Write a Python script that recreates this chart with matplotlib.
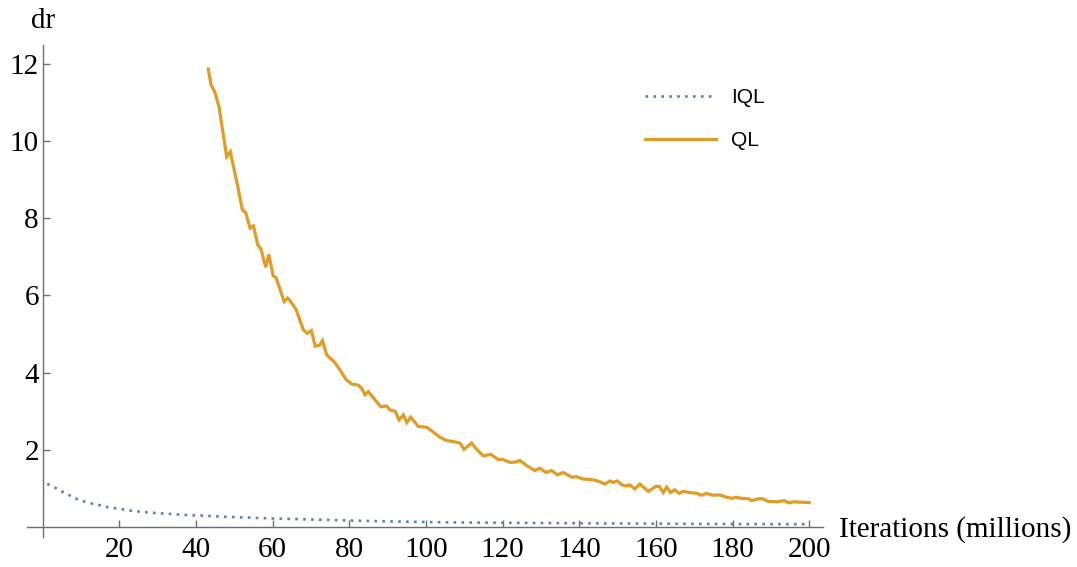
import matplotlib
matplotlib.use("Agg")
import matplotlib.pyplot as plt

# ---- data ----
iql_x = [1.2, 3.0, 4.7, 6.4, 8.2, 9.9, 11.6, 13.6, 15.5, 17.4, 19.3, 21.2, 23.1, 25.0,
         27.0, 29.0, 31.0, 35.0, 38.4, 42.3, 48.2, 55.8, 59.7, 67.2, 75.0, 82.8, 92.4,
         98.0, 110.0, 125.0, 140.0, 160.0, 180.0, 200.0]
iql_y = [1.125, 1.04, 0.94, 0.86, 0.76, 0.70, 0.64, 0.60, 0.56, 0.51, 0.49, 0.46, 0.43, 0.41,
         0.39, 0.375, 0.36, 0.335, 0.315, 0.30, 0.27, 0.245, 0.23, 0.21, 0.19, 0.17, 0.15,
         0.14, 0.125, 0.115, 0.105, 0.095, 0.085, 0.08]

ql_x = [43.2, 43.9, 44.95, 46.0, 48.0, 48.95, 50.35, 51.0, 52.1, 52.96, 54.1, 55.0, 56.1,
        56.95, 58.2, 59.0, 60.1, 60.9, 63.0, 63.9, 64.5, 66.1, 68.0, 69.0, 70.1, 71.1, 72.2,
        73.0, 74.1, 76.0, 77.6, 79.1, 80.6, 82.3, 83.2, 84.1, 84.95, 86.7, 88.2, 89.7, 90.6,
        92.0, 93.0, 94.1, 95.0, 96.0, 98.0, 100.2, 103.7, 105.2, 107.1, 108.9, 109.9, 111.9,
        113.4, 114.95, 116.9, 118.9, 120.0, 121.9, 123.5, 124.5, 126.4, 128.4, 129.7, 131.3,
        132.8, 134.3, 135.8, 138.0, 139.3, 141.0, 143.6, 145.4, 146.7, 148.0, 148.9, 149.9,
        151.1, 152.4, 153.2, 154.5, 155.8, 158.0, 160.0, 160.9, 161.9, 162.8, 163.8, 164.9,
        166.1, 167.1, 168.9, 170.6, 171.9, 173.2, 174.8, 176.7, 178.4, 179.8, 180.9, 182.4,
        184.1, 185.0, 186.8, 187.9, 189.3, 191.5, 193.4, 194.8, 195.8, 198.0, 200.0]
ql_y = [11.86, 11.46, 11.25, 10.88, 9.59, 9.72, 9.07, 8.77, 8.21, 8.15, 7.74, 7.80, 7.31,
        7.20, 6.73, 7.06, 6.51, 6.46, 5.84, 5.93, 5.87, 5.64, 5.11, 5.02, 5.09, 4.69, 4.71,
        4.83, 4.46, 4.29, 4.07, 3.83, 3.71, 3.68, 3.60, 3.43, 3.51, 3.30, 3.12, 3.14, 3.04,
        3.00, 2.78, 2.91, 2.71, 2.85, 2.61, 2.59, 2.33, 2.25, 2.22, 2.18, 2.02, 2.18,
        2.00, 1.85, 1.89, 1.75, 1.76, 1.68, 1.69, 1.73, 1.59, 1.47, 1.53, 1.42,
        1.47, 1.36, 1.42, 1.30, 1.31, 1.25, 1.23, 1.18, 1.12, 1.20, 1.16, 1.20,
        1.10, 1.07, 1.10, 0.99, 1.12, 0.93, 1.06, 1.06, 0.90, 1.04, 0.90, 0.97,
        0.88, 0.93, 0.90, 0.88, 0.83, 0.88, 0.83, 0.84, 0.78, 0.75, 0.78, 0.75,
        0.74, 0.69, 0.74, 0.74, 0.67, 0.66, 0.69, 0.63, 0.66, 0.65, 0.64]

x_ticks = [20, 40, 60, 80, 100, 120, 140, 160, 180, 200]
y_ticks = [2, 4, 6, 8, 10, 12]

W, H = 1077, 567
fig = plt.figure(figsize=(W / 100, H / 100), dpi=100)
ax = fig.add_axes([27 / W, 1 - 537 / H, (823 - 27) / W, (537 - 45) / H])

ax.plot(iql_x, iql_y, color="#5E81B5", lw=1.9, linestyle=(0, (1, 2.0)), label="IQL")
ax.plot(ql_x, ql_y, color="#E19C24", lw=2.3, label="QL", solid_joinstyle="miter")

ax.set_xlim(-4.1, 203.6)
ax.set_ylim(-0.25, 12.48)

axis_col = "#6e6e6e"
for s in ("top", "right"):
    ax.spines[s].set_visible(False)
ax.spines["left"].set_position(("data", 0))
ax.spines["bottom"].set_position(("data", 0))
for s in ("left", "bottom"):
    ax.spines[s].set_color(axis_col)
    ax.spines[s].set_linewidth(1.0)

ax.set_xticks(x_ticks)
ax.set_yticks(y_ticks)
ax.set_xticklabels([str(v) for v in x_ticks], family="Liberation Serif", fontsize=21)
ax.set_yticklabels([str(v) for v in y_ticks], family="Liberation Serif", fontsize=21)
ax.tick_params(axis="both", direction="in", length=5, width=1, color=axis_col)
ax.tick_params(axis="x", pad=7)
ax.tick_params(axis="y", pad=2.8)

fig.text(31 / W, 1 - 28 / H, "dr", family="Liberation Serif", fontsize=21,
         va="baseline", ha="left")
fig.text(839 / W, 1 - 537 / H, "Iterations (millions)", family="Liberation Serif",
         fontsize=21, va="baseline", ha="left")

leg = ax.legend(loc="upper left", bbox_to_anchor=(645 / W, 1 - 88 / H),
                bbox_transform=fig.transFigure, frameon=False,
                prop={"family": "Liberation Sans", "size": 15},
                handlelength=3.4, handletextpad=0.75, labelspacing=1.15,
                borderpad=0, borderaxespad=0)

fig.savefig("out.png", dpi=100)
